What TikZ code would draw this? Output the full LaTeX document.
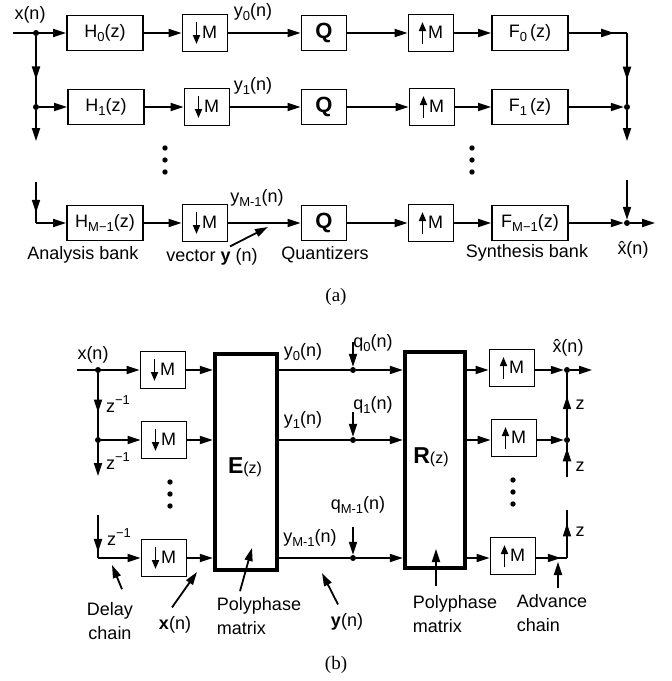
\documentclass[tikz,border=0pt]{standalone}
\usepackage{fontspec}
\setmainfont{Liberation Sans}
\newfontfamily\capfont{Liberation Serif}
\usetikzlibrary{arrows.meta,positioning,decorations.markings}
\newcommand{\subidx}[1]{\raisebox{-0.5ex}{\fontsize{13}{13}\selectfont #1}}
\newcommand{\supidx}[1]{\raisebox{0.9ex}{\fontsize{13}{13}\selectfont #1}}
\newcommand{\dnar}{\tikz[baseline=0pt]\draw[line width=1.8pt,-{Triangle[length=9pt,width=7pt]}] (0pt,16pt) -- (0pt,-6pt);\hspace{2pt}}
\newcommand{\upar}{\tikz[baseline=0pt]\draw[line width=1.8pt,-{Triangle[length=9pt,width=7pt]}] (0pt,-6pt) -- (0pt,16pt);\hspace{2pt}}

\begin{document}
\begin{tikzpicture}[
  x=1pt,y=-1pt,
  font=\fontsize{18}{24}\selectfont,
  every node/.style={inner sep=1pt},
  blk/.style={draw,line width=1.8pt,inner sep=0pt,minimum width=76pt,minimum height=35pt},
  rate/.style={blk,minimum width=45pt,minimum height=37pt},
  quant/.style={blk,minimum width=45pt,minimum height=35pt,font=\fontsize{22}{22}\selectfont\bfseries},
  mtx/.style={draw,line width=4.5pt,inner sep=0pt},
  wire/.style={line width=1.8pt},
  flow/.style={wire,-{Triangle[length=13pt,width=8pt]}},
  midarr/.style={wire,postaction={decorate},decoration={markings,mark=at position #1 with {\arrow{Triangle[length=13pt,width=8pt]}}}},
  jdot/.style={circle,fill,inner sep=0pt,minimum size=6pt},
  note/.style={align=left},
  capt/.style={font=\capfont\fontsize{19}{19}\selectfont}
]
\useasboundingbox (0,0) rectangle (672,681);
% (a) analysis / synthesis bank
\coordinate (ain) at (13,33);
\node[jdot] (aj0) at (36,33) {};
\node[jdot] (aj1) at (36,107) {};
\coordinate (ajb) at (36,141);
\coordinate (ajt) at (36,182);
\coordinate (ajc) at (36,223);
\node[blk] (H0) at (105,33) {H\subidx{0}(z)};
\node[blk] (H1) at (106,107) {H\subidx{1}(z)};
\node[blk] (HM) at (105,223) {H\subidx{M−1}(z)};
\node[rate] (D0) at (205,33) {\dnar M};
\node[rate] (D1) at (207,107) {\dnar M};
\node[rate] (DM) at (205,223) {\dnar M};
\node[quant] (Q0) at (324,33) {Q};
\node[quant] (Q1) at (324,107) {Q};
\node[quant] (QM) at (324,223) {Q};
\node[rate] (U0) at (431,33) {\upar M};
\node[rate] (U1) at (432,107) {\upar M};
\node[rate] (UM) at (431,223) {\upar M};
\node[blk] (F0) at (530,33) {F\subidx{0}\,(z)};
\node[blk] (F1) at (530,107) {F\subidx{1}\,(z)};
\node[blk] (FM) at (530,223) {F\subidx{M−1}(z)};
\coordinate (ar0) at (627,33);
\node[jdot] (ar1) at (627,107) {};
\coordinate (arb) at (627,141);
\coordinate (art) at (627,180);
\node[jdot] (arM) at (627,223) {};
\coordinate (aout) at (655,223);
\draw[flow] (ain) -- (H0);
\draw[flow] (H0) -- (D0);
\draw[flow] (D0) -- (Q0);
\draw[flow] (Q0) -- (U0);
\draw[flow] (U0) -- (F0);
\draw[midarr=0.78] (F0) -- (ar0);
\draw[midarr=0.66] (ar0) -- (ar1);
\draw[flow] (ar1) -- (arb);
\draw[midarr=0.64] (aj0) -- (aj1);
\draw[flow] (aj1) -- (ajb);
\draw[flow] (aj1) -- (H1);
\draw[flow] (H1) -- (D1);
\draw[flow] (D1) -- (Q1);
\draw[flow] (Q1) -- (U1);
\draw[flow] (U1) -- (F1);
\draw[flow] (F1) -- (ar1);
\draw[midarr=0.75] (ajt) -- (ajc);
\draw[flow] (ajc) -- (HM);
\draw[flow] (HM) -- (DM);
\draw[flow] (DM) -- (QM);
\draw[flow] (QM) -- (UM);
\draw[flow] (UM) -- (FM);
\draw[flow] (FM) -- (arM);
\draw[flow] (art) -- (arM);
\draw[flow] (arM) -- (aout);
\fill (165,148) circle (2.7pt) (165,160) circle (2.7pt) (165,172) circle (2.7pt);
\fill (472,148) circle (2.7pt) (472,160) circle (2.7pt) (472,172) circle (2.7pt);
\node (axn) at (30,15) {x(n)};
\node (ay0) at (253,12) {y\subidx{0}(n)};
\node (ay1) at (253,86) {y\subidx{1}(n)};
\node (ayM) at (257,198) {y\subidx{M-1}(n)};
\node (ana) at (83,255) {Analysis bank};
\node (avec) at (212,257) {vector \textbf{y} (n)};
\node (aqz) at (325,255) {Quantizers};
\node (asy) at (527,253) {Synthesis bank};
\node (axh) at (633,250) {\^{x}(n)};
\coordinate (avt) at (268,227);
\draw[flow] ([xshift=18pt,yshift=1pt]avec.north) -- (avt);
\node[capt] (capa) at (336,297) {(a)};
% (b) polyphase form
\coordinate (bin) at (77,370);
\node[jdot] (bj0) at (98,370) {};
\node[jdot] (bj1) at (98,440) {};
\coordinate (bjb) at (98,476);
\coordinate (bjt) at (98,515);
\coordinate (bjc) at (98,558);
\node[rate] (bd0) at (163,370) {\dnar M};
\node[rate] (bd1) at (164,440) {\dnar M};
\node[rate] (bdM) at (164,558) {\dnar M};
\node[mtx,minimum width=62pt,minimum height=216pt] (E) at (246,462) {};
\node (El) at (245,467) {{\fontsize{23}{23}\selectfont\bfseries E}{\fontsize{16}{16}\selectfont(z)}};
\node[mtx,minimum width=60pt,minimum height=216pt] (R) at (435,460) {};
\node (Rl) at (431,457) {{\fontsize{23}{23}\selectfont\bfseries R}{\fontsize{16}{16}\selectfont(z)}};
\node[jdot] (bq0) at (353,370) {};
\node[jdot] (bq1) at (353,440) {};
\node[jdot] (bqM) at (353,558) {};
\coordinate (bq0t) at (353,342);
\coordinate (bq1t) at (353,412);
\coordinate (bqMt) at (353,527);
\node[rate] (bu0) at (512,368) {\upar M};
\node[rate] (bu1) at (514,438) {\upar M};
\node[rate] (buM) at (513,556) {\upar M};
\node[jdot] (bk0) at (567,370) {};
\node[jdot] (bk1) at (567,440) {};
\coordinate (bout) at (592,370);
\coordinate (bkb) at (567,477);
\coordinate (bkc) at (567,558);
\coordinate (bkt) at (567,510);
\draw[flow] (bin) -- (bd0);
\draw[midarr=0.62] (bj0) -- (bj1);
\draw[flow] (bj1) -- (bjb);
\draw[flow] (bj1) -- (bd1);
\draw[midarr=0.86] (bjt) -- (bjc);
\draw[flow] (bjc) -- (bdM);
\draw[flow] (bd0) -- (bd0 -| E.west);
\draw[flow] (bd1) -- (bd1 -| E.west);
\draw[flow] (bdM) -- (bdM -| E.west);
\draw[wire] (bq0 -| E.east) -- (bq0);
\draw[wire] (bq1 -| E.east) -- (bq1);
\draw[wire] (bqM -| E.east) -- (bqM);
\draw[flow] (bq0) -- (bq0 -| R.west);
\draw[flow] (bq1) -- (bq1 -| R.west);
\draw[flow] (bqM) -- (bqM -| R.west);
\draw[flow] (bq0t) -- (bq0);
\draw[flow] (bq1t) -- (bq1);
\draw[flow] (bqMt) -- (bqM);
\draw[flow] (bk0 -| R.east) -- (bu0.west |- bk0);
\draw[flow] (bk1 -| R.east) -- (bu1.west |- bk1);
\draw[flow] (bkc -| R.east) -- (buM.west |- bkc);
\draw[flow] (bu0.east |- bk0) -- (bk0);
\draw[flow] (bk0) -- (bout);
\draw[flow] (bu1.east |- bk1) -- (bk1);
\draw[midarr=0.64] (bk1) -- (bk0);
\draw[midarr=0.85] (bkb) -- (bk1);
\draw[midarr=0.8] (buM.east |- bkc) -- (bkc);
\draw[midarr=0.72] (bkc) -- (bkt);
\fill (170,482) circle (2.7pt) (170,494) circle (2.7pt) (170,506) circle (2.7pt);
\fill (513,480) circle (2.7pt) (513,492) circle (2.7pt) (513,504) circle (2.7pt);
\node (bxn) at (93,355) {x(n)};
\node (bz0) at (118,404) {z\supidx{−1}};
\node (bz1) at (118,461) {z\supidx{−1}};
\node (bzM) at (119,537) {z\supidx{−1}};
\node (by0) at (303,352) {y\subidx{0}(n)};
\node (by1) at (303,420) {y\subidx{1}(n)};
\node (byM) at (310,538) {y\subidx{M-1}(n)};
\node (bq0l) at (373,343) {q\subidx{0}(n)};
\node (bq1l) at (373,405) {q\subidx{1}(n)};
\node (bqMl) at (358,505) {q\subidx{M-1}(n)};
\node (bxh) at (568,348) {\^{x}(n)};
\node (bzu1) at (580,405) {z};
\node (bzu2) at (580,467) {z};
\node (bzu3) at (580,532) {z};
\node[note,align=center] (bdly) at (110,621) {Delay\\chain};
\node (bxv) at (175,625) {\textbf{x}(n)};
\node[note] (bpm1) at (259,616) {Polyphase\\matrix};
\node (byv) at (347,622) {\textbf{y}(n)};
\node[note] (bpm2) at (455,614) {Polyphase\\matrix};
\node[note] (badv) at (552,613) {Advance\\chain};
\coordinate (bdlyt) at (112,565);
\coordinate (bxvt) at (197,572);
\coordinate (bpm1t) at (252,548);
\coordinate (byvt) at (322,573);
\coordinate (bpm2t) at (436,549);
\coordinate (badvt) at (558,562);
\draw[flow] ([xshift=12pt,yshift=12pt]bdly.north) -- (bdlyt);
\draw[flow] ([xshift=-3pt,yshift=8pt]bxv.north) -- (bxvt);
\draw[flow] ([xshift=-19pt,yshift=5pt]bpm1.north) -- (bpm1t);
\draw[flow] ([xshift=-9pt,yshift=8pt]byv.north) -- (byvt);
\draw[flow] ([xshift=-19pt,yshift=8pt]bpm2.north) -- (bpm2t);
\draw[flow] ([xshift=6pt,yshift=5pt]badv.north) -- (badvt);
\node[capt] (capb) at (336,665) {(b)};
\end{tikzpicture}
\end{document}
